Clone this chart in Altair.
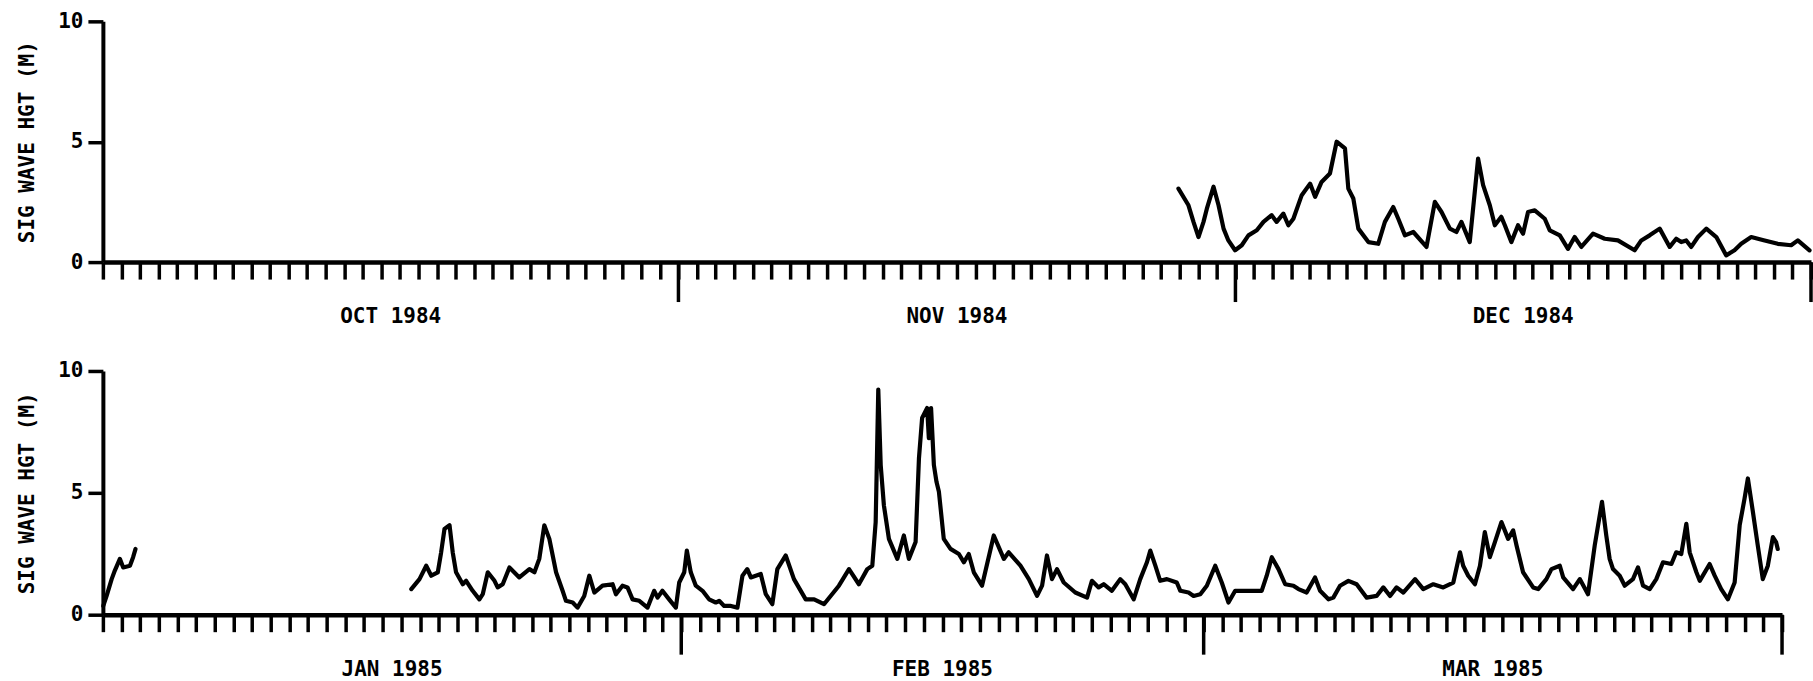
import altair as alt
import pandas as pd

FONT = "DejaVu Sans Mono"

# ---- Panel 1: Oct-Dec 1984 (time = days since 1984-10-01 00:00 UTC) ----
top_day = [57.93, 58.47, 58.74, 59.01, 59.28, 59.46, 59.82, 60.09, 60.36, 60.62,
           60.98, 61.34, 61.70, 62.15, 62.51, 62.95, 63.22, 63.58, 63.85, 64.12,
           64.57, 65.02, 65.29, 65.64, 66.09, 66.45, 66.90, 67.08, 67.35, 67.62,
           68.16, 68.69, 69.05, 69.50, 69.77, 70.13, 70.58, 71.29, 71.74, 72.10,
           72.55, 72.90, 73.17, 73.62, 74.07, 74.34, 74.70, 74.97, 75.32, 75.51,
           75.86, 76.22, 76.49, 76.76, 77.12, 77.66, 77.93, 78.47, 78.91, 79.27,
           79.63, 80.26, 80.89, 81.60, 82.50, 82.86, 83.31, 83.85, 84.39, 84.74,
           85.01, 85.28, 85.55, 85.91, 86.36, 86.90, 87.43, 87.88, 88.24, 88.78,
           89.50, 90.21, 90.93, 91.29, 91.92]
top_hs = [3.05, 2.36, 1.67, 1.04, 1.67, 2.22, 3.13, 2.36, 1.39, 0.90,
          0.49, 0.70, 1.11, 1.32, 1.67, 1.95, 1.67, 2.01, 1.53, 1.80,
          2.78, 3.26, 2.71, 3.33, 3.68, 5.00, 4.72, 3.05, 2.64, 1.39,
          0.83, 0.76, 1.67, 2.29, 1.80, 1.11, 1.25, 0.63, 2.50, 2.08,
          1.39, 1.25, 1.67, 0.83, 4.30, 3.20, 2.36, 1.53, 1.88, 1.53,
          0.83, 1.53, 1.18, 2.08, 2.15, 1.80, 1.32, 1.11, 0.55, 1.04,
          0.63, 1.18, 0.97, 0.90, 0.49, 0.90, 1.11, 1.39, 0.63, 0.97,
          0.83, 0.90, 0.63, 1.04, 1.39, 1.04, 0.28, 0.49, 0.76, 1.04,
          0.90, 0.76, 0.70, 0.90, 0.49]

# ---- Panel 2: Jan-Mar 1985 (time = days since 1985-01-01 00:00 UTC) ----
jan_day = [0.02, 0.20, 0.47, 0.64, 0.91, 1.09, 1.45, 1.62, 1.75]
jan_hs = [0.36, 0.77, 1.46, 1.81, 2.29, 1.94, 2.01, 2.36, 2.70]

bot_day = [16.53, 16.97, 17.33, 17.60, 17.95, 18.13, 18.31, 18.58, 18.75, 18.93,
           19.29, 19.47, 19.82, 20.18, 20.36, 20.63, 20.99, 21.16, 21.43, 21.79,
           22.32, 22.86, 23.13, 23.39, 23.66, 23.93, 24.29, 24.64, 24.82, 25.18,
           25.44, 25.80, 26.07, 26.34, 26.78, 27.32, 27.50, 27.85, 28.12, 28.39,
           28.75, 29.19, 29.55, 29.73, 29.99, 30.35, 30.71, 30.89, 31.16, 31.30,
           31.51, 31.78, 32.14, 32.49, 32.85, 33.03, 33.30, 33.66, 34.01, 34.28,
           34.54, 34.73, 35.26, 35.53, 35.88, 36.15, 36.60, 37.04, 37.67, 38.12,
           38.65, 39.45, 39.99, 40.52, 40.97, 41.24, 41.42, 41.56, 41.69, 41.86,
           42.13, 42.58, 42.93, 43.20, 43.56, 43.74, 43.91, 44.18, 44.27, 44.39,
           44.54, 44.68, 44.81, 45.07, 45.43, 45.88, 46.15, 46.41, 46.68, 47.12,
           47.75, 48.29, 48.55, 49.18, 49.63, 50.07, 50.34, 50.60, 50.87, 51.14,
           51.50, 52.12, 52.75, 53.01, 53.37, 53.64, 54.08, 54.53, 54.80, 55.25,
           55.60, 55.96, 56.14, 56.41, 56.67, 57.03, 57.56, 57.75, 58.19, 58.46,
           58.82, 59.17, 59.62, 59.97, 60.33, 60.69, 62.11, 62.38, 62.65, 63.01,
           63.37, 63.81, 64.08, 64.52, 64.97, 65.24, 65.69, 65.95, 66.31, 66.76,
           67.20, 67.74, 68.27, 68.63, 68.99, 69.34, 69.70, 70.33, 70.77, 71.31,
           71.84, 72.38, 72.74, 72.91, 73.18, 73.54, 73.81, 74.07, 74.34, 74.61,
           74.96, 75.32, 75.59, 75.77, 76.12, 76.66, 76.93, 77.37, 77.64, 78.09,
           78.27, 78.80, 79.16, 79.60, 79.96, 80.35, 80.58, 80.76, 80.94, 81.30,
           81.57, 82.01, 82.28, 82.55, 82.91, 83.26, 83.62, 84.07, 84.33, 84.60,
           84.87, 85.05, 85.41, 85.59, 86.12, 86.39, 86.74, 87.10, 87.46, 87.73,
           87.99, 88.17, 88.44, 88.70, 88.97, 89.24, 89.51, 89.68, 89.77]
bot_hs = [1.05, 1.46, 2.01, 1.60, 1.74, 2.56, 3.52, 3.67, 2.56, 1.74,
          1.25, 1.39, 0.98, 0.63, 0.84, 1.74, 1.39, 1.12, 1.25, 1.94,
          1.53, 1.87, 1.74, 2.29, 3.67, 3.11, 1.74, 0.98, 0.57, 0.50,
          0.29, 0.77, 1.60, 0.91, 1.19, 1.25, 0.84, 1.19, 1.12, 0.63,
          0.57, 0.29, 0.98, 0.70, 0.98, 0.63, 0.29, 1.32, 1.74, 2.63,
          1.74, 1.19, 0.98, 0.63, 0.50, 0.57, 0.36, 0.36, 0.29, 1.60,
          1.87, 1.53, 1.67, 0.84, 0.43, 1.87, 2.43, 1.46, 0.63, 0.63,
          0.43, 1.19, 1.87, 1.25, 1.87, 2.01, 3.80, 9.24, 6.14, 4.49,
          3.11, 2.29, 3.25, 2.29, 2.98, 6.42, 8.07, 8.48, 7.24, 8.48,
          6.14, 5.45, 5.04, 3.11, 2.70, 2.49, 2.15, 2.49, 1.74, 1.19,
          3.25, 2.29, 2.56, 2.01, 1.46, 0.77, 1.19, 2.43, 1.46, 1.87,
          1.32, 0.91, 0.70, 1.39, 1.12, 1.25, 0.98, 1.46, 1.25, 0.63,
          1.46, 2.15, 2.63, 2.01, 1.39, 1.46, 1.32, 0.98, 0.91, 0.77,
          0.84, 1.19, 2.01, 1.32, 0.50, 0.98, 0.98, 1.60, 2.36, 1.87,
          1.25, 1.19, 1.05, 0.91, 1.53, 0.98, 0.63, 0.70, 1.19, 1.39,
          1.25, 0.70, 0.77, 1.12, 0.77, 1.12, 0.91, 1.46, 1.05, 1.25,
          1.12, 1.32, 2.56, 2.01, 1.60, 1.25, 2.01, 3.39, 2.36, 2.98,
          3.80, 3.11, 3.46, 2.84, 1.74, 1.12, 1.05, 1.46, 1.87, 2.01,
          1.53, 1.05, 1.46, 0.84, 2.84, 4.63, 3.25, 2.29, 1.87, 1.60,
          1.19, 1.46, 1.94, 1.19, 1.05, 1.46, 2.15, 2.08, 2.56, 2.49,
          3.73, 2.56, 1.74, 1.39, 2.08, 1.60, 1.05, 0.63, 1.32, 3.67,
          4.76, 5.59, 4.21, 2.84, 1.46, 2.01, 3.18, 2.98, 2.70]

top_months = ["OCT 1984", "NOV 1984", "DEC 1984"]
top_bounds = ["1984-10-01", "1984-11-01", "1984-12-01", "1985-01-01"]
bot_months = ["JAN 1985", "FEB 1985", "MAR 1985"]
bot_bounds = ["1985-01-01", "1985-02-01", "1985-03-01", "1985-04-01"]

Y_TITLE = "SIG WAVE HGT (M)"
DAY_MS = 86400000


def ms(s):
    return int(pd.Timestamp(s).timestamp() * 1000)


def series_frame(start, parts):
    t0 = ms(start)
    rows = []
    for seg, (days, hs) in enumerate(parts):
        for d, h in zip(days, hs):
            rows.append({"t": t0 + d * DAY_MS, "hs": h, "seg": seg})
    return pd.DataFrame(rows)


def panel(df, names, bounds, px_per_day, height):
    t0, t1 = ms(bounds[0]), ms(bounds[-1])
    ndays = round((t1 - t0) / DAY_MS)
    width = round(ndays * px_per_day)
    xscale = alt.Scale(type="utc", domain=[t0, t1], nice=False)
    xaxis = alt.Axis(values=[t0 + i * DAY_MS for i in range(ndays + 1)],
                     labels=False, title=None, grid=False,
                     tickSize=17, tickWidth=3.5, tickColor="black",
                     domainWidth=4.5, domainColor="black")
    yaxis = alt.Axis(values=[0, 5, 10], title=Y_TITLE, grid=False,
                     tickSize=15, tickWidth=3.5, tickColor="black",
                     domainWidth=4, domainColor="black",
                     labelFont=FONT, labelFontSize=21, labelFontWeight="bold",
                     labelColor="black", labelPadding=5,
                     titleFont=FONT, titleFontSize=21, titleFontWeight="bold",
                     titleColor="black", titlePadding=20)

    line = alt.Chart(df).mark_line(color="black", strokeWidth=4.2,
                                   strokeJoin="round", strokeCap="round").encode(
        x=alt.X("t:T", scale=xscale, axis=xaxis),
        y=alt.Y("hs:Q", scale=alt.Scale(domain=[0, 10], nice=False), axis=yaxis),
        detail="seg:N",
    )

    bdf = pd.DataFrame({"t": [ms(b) for b in bounds[1:]]})
    rules = alt.Chart(bdf).mark_rule(color="black", strokeWidth=3.5).encode(
        x=alt.X("t:T", scale=xscale, axis=xaxis),
        y=alt.value(height), y2=alt.value(height + 40),
    )

    mids = [(ms(bounds[i]) + ms(bounds[i + 1])) / 2 for i in range(len(names))]
    ldf = pd.DataFrame({"t": mids, "name": names})
    labels = alt.Chart(ldf).mark_text(font=FONT, fontSize=21, fontWeight="bold",
                                      color="black", align="center",
                                      baseline="middle").encode(
        x=alt.X("t:T", scale=xscale, axis=xaxis),
        y=alt.value(height + 55),
        text="name:N",
    )
    return alt.layer(line, rules, labels).properties(width=width, height=height)


top_df = series_frame(top_bounds[0], [(top_day, top_hs)])
bot_df = series_frame(bot_bounds[0], [(jan_day, jan_hs), (bot_day, bot_hs)])

top = panel(top_df, top_months, top_bounds, 18.59, 241)
bottom = panel(bot_df, bot_months, bot_bounds, 18.68, 244)

chart = alt.vconcat(top, bottom, spacing=33).properties(
    padding={"left": 16, "top": 10, "right": 0, "bottom": 0},
    background="white",
).configure_view(stroke=None)

chart.save("out.html", embed_options={"renderer": "svg", "actions": False})
